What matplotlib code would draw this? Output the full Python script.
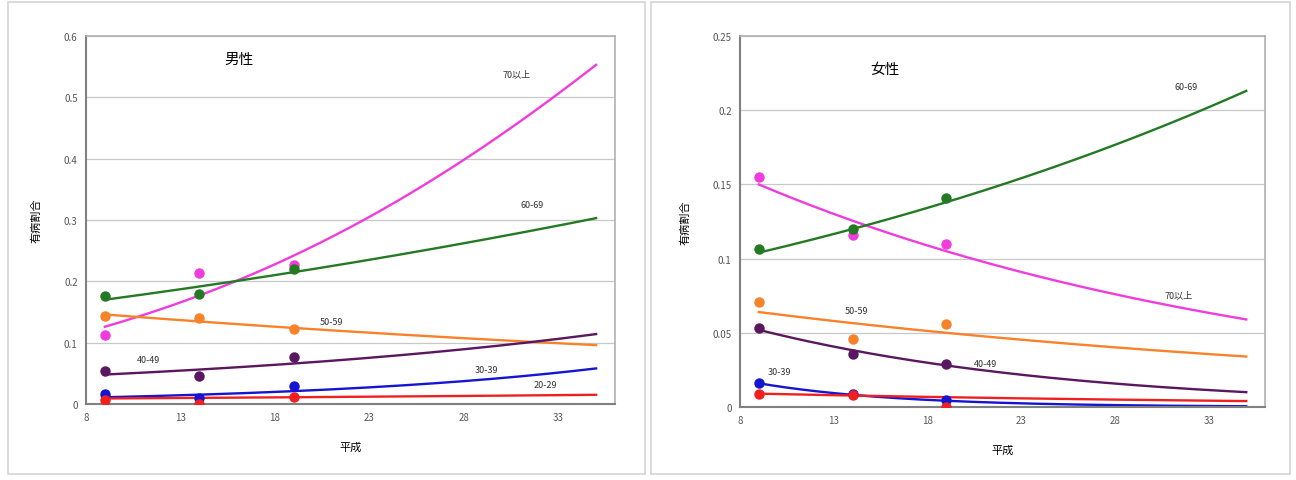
import numpy as np
import matplotlib.pyplot as plt
from matplotlib.patches import Rectangle

plt.rcParams['font.family'] = ['Noto Sans CJK JP', 'DejaVu Sans']

# 平成の調査年
years = [9, 14, 19]
# 近似曲線を読み取った位置 (始点・中間・終点)
trend_x = [9, 19, 35]

groups = ['70以上', '60-69', '50-59', '40-49', '30-39', '20-29']
colors = ['#f03cdc', '#237a23', '#f7822a', '#5a1660', '#1414d2', '#f02020']

# 男性: 観測値
male_points = {
    '70以上': [0.113, 0.214, 0.226],
    '60-69': [0.176, 0.179, 0.220],
    '50-59': [0.143, 0.140, 0.122],
    '40-49': [0.054, 0.045, 0.076],
    '30-39': [0.017, 0.010, 0.030],
    '20-29': [0.007, 0.000, 0.011],
}
# 男性: 近似曲線の値 (trend_x の位置)
male_trend = [
    [0.126, 0.242, 0.553],
    [0.170, 0.215, 0.303],
    [0.146, 0.124, 0.096],
    [0.048, 0.066, 0.114],
    [0.011, 0.021, 0.058],
    [0.009, 0.011, 0.015],
]
male_label_pos = [(30.8, 0.538), (31.6, 0.326), (21.0, 0.135),
                  (11.3, 0.073), (29.2, 0.057), (32.3, 0.031)]

# 女性
female_points = {
    '70以上': [0.155, 0.116, 0.110],
    '60-69': [0.1065, 0.120, 0.141],
    '50-59': [0.071, 0.046, 0.056],
    '40-49': [0.053, 0.036, 0.029],
    '30-39': [0.016, 0.009, 0.005],
    '20-29': [0.009, 0.008, 0.000],
}
female_trend = [
    [0.150, 0.105, 0.059],
    [0.104, 0.138, 0.213],
    [0.064, 0.050, 0.034],
    [0.052, 0.028, 0.010],
    [0.016, 0.0042, 0.0005],
    [0.009, 0.0066, 0.004],
]
female_label_pos = [(31.4, 0.0755), (31.8, 0.216), (14.2, 0.0647),
                    (21.1, 0.029), (10.1, 0.024), None]

male_yticks = [0, 0.1, 0.2, 0.3, 0.4, 0.5, 0.6]
male_yticklabels = ['0', '0.1', '0.2', '0.3', '0.4', '0.5', '0.6']
female_yticks = [0, 0.05, 0.1, 0.15, 0.2, 0.25]
female_yticklabels = ['0', '0.05', '0.1', '0.15', '0.2', '0.25']
xticks = [8, 13, 18, 23, 28, 33]

fig = plt.figure(figsize=(12.96, 4.81), dpi=100)

# グラフエリアの枠
for x0, w in [(8, 637), (651, 639)]:
    fig.add_artist(Rectangle((x0 / 1296, 6 / 481), w / 1296, 472 / 481,
                             transform=fig.transFigure, fill=False,
                             edgecolor='#d4d4d4', lw=1.2))


def draw(ax, points, trend, label_pos, yticks, yticklabels, title,
         title_pos):
    xs = np.linspace(trend_x[0], trend_x[-1], 200)
    for i, g in enumerate(groups):
        c = colors[i]
        # 近似曲線 (対数空間で滑らかにつなぐ)
        coef = np.polyfit(trend_x, np.log(trend[i]), 2)
        ax.plot(xs, np.exp(np.polyval(coef, xs)), color=c, lw=1.7, zorder=2)
        ax.plot(years, points[g], 'o', color=c, ms=6.5, zorder=3)
        if label_pos[i] is not None:
            ax.text(label_pos[i][0], label_pos[i][1], g, fontsize=6.5,
                    color='#333333', ha='center', va='center')
    ax.set_xlim(8, 36)
    ax.set_ylim(yticks[0], yticks[-1])
    ax.set_xticks(xticks)
    ax.set_xticklabels([str(t) for t in xticks])
    ax.set_yticks(yticks)
    ax.set_yticklabels(yticklabels)
    ax.tick_params(labelsize=7, labelcolor='#555555', length=0, pad=6)
    ax.grid(axis='y', color='#c8c8c8', lw=0.9)
    ax.set_axisbelow(True)
    for s in ['left', 'bottom']:
        ax.spines[s].set_color('#808080')
        ax.spines[s].set_linewidth(1.5)
    for s in ['top', 'right']:
        ax.spines[s].set_color('#b0b0b0')
        ax.spines[s].set_linewidth(1.2)
    ax.set_xlabel('平成', fontsize=8, labelpad=14)
    ax.set_ylabel('有病割合', fontsize=8, labelpad=16)
    ax.text(title_pos[0], title_pos[1], title, fontsize=10.5,
            ha='center', va='center')


ax1 = fig.add_axes([86 / 1296, 76 / 481, 529 / 1296, 368 / 481])
draw(ax1, male_points, male_trend, male_label_pos,
     male_yticks, male_yticklabels, '男性', (16.1, 0.563))

ax2 = fig.add_axes([740 / 1296, 73 / 481, 525 / 1296, 371 / 481])
draw(ax2, female_points, female_trend, female_label_pos,
     female_yticks, female_yticklabels, '女性', (15.75, 0.228))

fig.savefig('out.png', dpi=100)
